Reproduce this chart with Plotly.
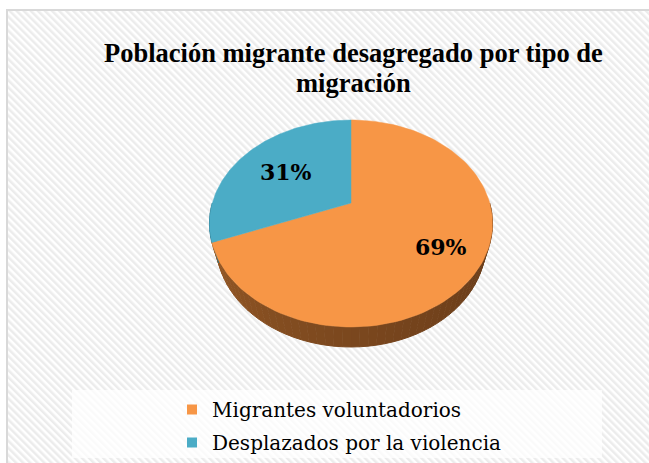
"""3D-style pie: población migrante por tipo de migración."""

import base64

import numpy as np
import plotly.graph_objects as go

# data
categories = ["Migrantes voluntadorios", "Desplazados por la violencia"]
shares = [69, 31]
colors = ["#F79646", "#4BACC6"]
title_lines = ["Población migrante desagregado por tipo de", "migración"]

W, H = 649, 463

# simple perspective camera for the tilted disk (radius 1)
ALPHA = np.radians(45.8)   # elevation of the view
K = 0.284                  # radius / camera distance
DEPTH = 0.238              # thickness of the disk
PX = 138.7                 # pixels per unit
APEX = (351, 203)          # where the pie centre lands on the page


def project(X, Y, Z):
    den = 1 + K * (Z * np.cos(ALPHA) - Y * np.sin(ALPHA))
    return X / den, (Z * np.sin(ALPHA) + Y * np.cos(ALPHA)) / den


def rim(phi, y=0.0):
    # phi measured clockwise from the far side of the disk
    return project(np.sin(phi), y, np.cos(phi))


fig = go.Figure()

# side wall of the front half, shaded from left to right
n_seg = 60
edges = np.linspace(np.pi / 2, 3 * np.pi / 2, n_seg + 1)
bounds = np.cumsum([0] + shares) / sum(shares) * 2 * np.pi
for i in range(n_seg):
    a0, a1 = edges[i], edges[i + 1]
    k = np.searchsorted(bounds, (a0 + a1) / 2) - 1
    t = np.linspace(a0, a1, 4)
    xt, yt = rim(t)
    xb, yb = rim(t[::-1], -DEPTH)
    f = i / n_seg  # 0 at right (front-right) -> 1 at left
    base = np.array([0x9e, 0x5e, 0x28]) if k == 0 else np.array([0x2e, 0x7a, 0x8e])
    dark = np.array([0x5c, 0x34, 0x16]) if k == 0 else np.array([0x1c, 0x4e, 0x5c])
    mix = dark + (base - dark) * (0.2 + 0.8 * f ** 1.5)
    c = "rgb(%d,%d,%d)" % tuple(mix)
    fig.add_trace(go.Scatter(
        x=np.concatenate([xt, xb]), y=np.concatenate([yt, yb]),
        fill="toself", fillcolor=c, mode="lines", line=dict(width=1, color=c),
        hoverinfo="skip", showlegend=False,
    ))

# top faces
for k, (name, col) in enumerate(zip(categories, colors)):
    t = np.linspace(bounds[k], bounds[k + 1], 120)
    xs, ys = rim(t)
    cx, cy = project(0, 0, 0)
    fig.add_trace(go.Scatter(
        x=np.concatenate([[cx], xs, [cx]]), y=np.concatenate([[cy], ys, [cy]]),
        fill="toself", fillcolor=col, mode="lines", line=dict(width=0.5, color=col),
        name=name, hoverinfo="name", showlegend=False,
    ))

# legend entries (square swatches)
for name, col in zip(categories, colors):
    fig.add_trace(go.Scatter(
        x=[None], y=[None], mode="markers", name=name, legendgroup=name,
        marker=dict(symbol="square", size=10, color=col),
    ))

# percentage labels
label_r = [0.72, 0.6]
annotations = []
for k, v in enumerate(shares):
    mid = (bounds[k] + bounds[k + 1]) / 2
    lx, ly = project(label_r[k] * np.sin(mid), 0, label_r[k] * np.cos(mid))
    annotations.append(dict(
        x=lx, y=ly, xref="x", yref="y", text=f"{v}%", showarrow=False,
        font=dict(family="DejaVu Serif", size=22, color="black", weight="bold"),
    ))

# title, one annotation per line
for i, line in enumerate(title_lines):
    annotations.append(dict(
        x=353 / W, y=1 - (53 + 30 * i) / H, xref="paper", yref="paper",
        xanchor="center", yanchor="middle", text=line, showarrow=False,
        font=dict(family="Liberation Serif", size=26.5, color="black", weight="bold"),
    ))

# hatched chart-area background as an inline svg
svg = (
    f'<svg xmlns="http://www.w3.org/2000/svg" width="{W}" height="{H}">'
    '<defs><pattern id="p" width="5" height="5" patternUnits="userSpaceOnUse" '
    'patternTransform="rotate(-45)"><rect width="2.5" height="5" fill="#ececec"/></pattern></defs>'
    '<rect width="100%" height="100%" fill="white"/>'
    '<rect width="100%" height="100%" fill="url(#p)"/></svg>'
)
src = "data:image/svg+xml;base64," + base64.b64encode(svg.encode()).decode()

fig.update_layout(
    width=W, height=H,
    margin=dict(l=0, r=0, t=0, b=0),
    paper_bgcolor="white", plot_bgcolor="rgba(0,0,0,0)",
    xaxis=dict(range=[-APEX[0] / PX, (W - APEX[0]) / PX], visible=False, fixedrange=True),
    yaxis=dict(range=[-(H - APEX[1]) / PX, APEX[1] / PX], visible=False, fixedrange=True),
    images=[dict(
        source=src, xref="paper", yref="paper", x=8 / W, y=1 - 11 / H,
        sizex=1, sizey=1, sizing="stretch", xanchor="left", yanchor="top", layer="below",
    )],
    shapes=[
        dict(type="rect", xref="paper", yref="paper", x0=7 / W, y0=-0.05, x1=1.05, y1=1 - 10 / H,
             line=dict(color="#d9d9d9", width=2), layer="below"),
        dict(type="rect", xref="paper", yref="paper", x0=72 / W, x1=602 / W,
             y0=1 - 458 / H, y1=1 - 390 / H, line=dict(width=0),
             fillcolor="rgba(255,255,255,0.75)", layer="below"),
    ],
    legend=dict(
        x=172 / W, xanchor="left", y=1 - 390 / H, yanchor="top",
        bgcolor="rgba(0,0,0,0)", tracegroupgap=4, traceorder="grouped",
        font=dict(family="DejaVu Serif", size=20, color="black"),
    ),
    annotations=annotations,
    showlegend=True,
)

fig.write_html(
    "out.html",
    config={"displayModeBar": False},
    post_script="document.body.style.margin='0';",
)
